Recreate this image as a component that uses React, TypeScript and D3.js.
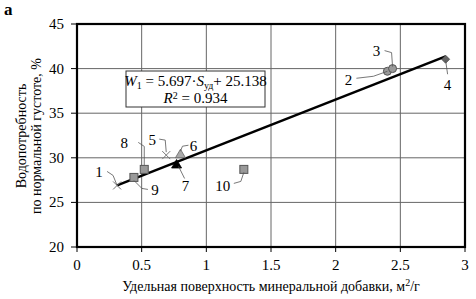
import * as d3 from "d3";

// measured points (specific surface, m2/g ; water demand, %)
const pointIds = ["1", "2", "3", "4", "5", "6", "7", "8", "9", "10"];
const surfaceValues = [0.31, 2.4, 2.44, 2.85, 0.69, 0.8, 0.77, 0.52, 0.44, 1.29];
const waterValues = [26.9, 39.7, 40.0, 41.05, 30.3, 30.4, 29.25, 28.7, 27.8, 28.7];
const markerKinds = ["cross", "circle", "circle", "diamond", "cross", "triangle", "triangleBlack", "square", "square", "square"];

const xTicks = [0, 0.5, 1, 1.5, 2, 2.5, 3];
const yTicks = [20, 25, 30, 35, 40, 45];
const slope = 5.697;
const intercept = 25.138;
const fitRange = [0.31, 2.85];

// label placement, pixels relative to the marker: text pos + leader polyline
const labelLayout: Record<string, { tx: number; ty: number; path: [number, number][] }> = {
  "1": { tx: -18, ty: -13, path: [[0, 0], [-4, -10], [-10, -14]] },
  "2": { tx: -39, ty: 9, path: [[0, 0], [-14, 5], [-31, 7]] },
  "3": { tx: -16, ty: -18, path: [[0, -2], [-1, -16], [-8, -18]] },
  "4": { tx: 2, ty: 26, path: [[0, 1], [2, 15]] },
  "5": { tx: -14, ty: -15, path: [[0, -3], [-1, -15], [-7, -16]] },
  "6": { tx: 13, ty: -8, path: [[0, -3], [2, -8], [8, -9]] },
  "7": { tx: 9, ty: 22, path: [[2, 2], [8, 14]] },
  "8": { tx: -20, ty: -26, path: [[0, -4], [0, -23], [-6, -27]] },
  "9": { tx: 21, ty: 13, path: [[0, 3], [8, 11], [14, 12]] },
  "10": { tx: -21, ty: 17, path: [[0, 3], [-3, 12], [-10, 14]] },
};

const W = 476;
const H = 299;
const m = { left: 77, top: 24, right: 11, bottom: 52 };
const font = "Liberation Serif";

function Marker({ kind, x, y }: { kind: string; x: number; y: number }) {
  if (kind === "cross")
    return (
      <path d={`M${x - 4},${y - 4}L${x + 4},${y + 4}M${x - 4},${y + 4}L${x + 4},${y - 4}`} stroke="#777" strokeWidth={1} />
    );
  if (kind === "circle") return <circle cx={x} cy={y} r={4} fill="#999" stroke="#555" strokeWidth={1} />;
  if (kind === "diamond")
    return <path d={`M${x},${y - 4}L${x + 4},${y}L${x},${y + 4}L${x - 4},${y}Z`} fill="#666" stroke="#444" strokeWidth={0.8} />;
  if (kind === "square") return <rect x={x - 4} y={y - 4} width={8} height={8} fill="#999" stroke="#555" strokeWidth={1} />;
  const fill = kind === "triangleBlack" ? "#000" : "#aaa";
  return <path d={`M${x},${y - 5}L${x + 5},${y + 3.5}L${x - 5},${y + 3.5}Z`} fill={fill} stroke={kind === "triangleBlack" ? "#000" : "#666"} strokeWidth={0.8} />;
}

export default function App() {
  const x = d3.scaleLinear().domain([0, 3]).range([m.left, W - m.right]);
  const y = d3.scaleLinear().domain([20, 45]).range([H - m.bottom, m.top]);
  const line = d3.line<number>().x((s) => x(s)).y((s) => y(slope * s + intercept));

  return (
    <svg width={W} height={H} style={{ position: "absolute", left: 0, top: 0, fontFamily: font }}>
      <rect width={W} height={H} fill="#fff" />
      <text x={4} y={15} fontSize={17} fontWeight="bold">а</text>

      {/* grid */}
      {xTicks.slice(1, -1).map((t) => (
        <line key={"gx" + t} x1={x(t)} x2={x(t)} y1={y(20)} y2={y(45)} stroke="#666" strokeWidth={1} />
      ))}
      {yTicks.slice(1, -1).map((t) => (
        <line key={"gy" + t} x1={x(0)} x2={x(3)} y1={y(t)} y2={y(t)} stroke="#666" strokeWidth={1} />
      ))}

      {/* ticks and labels */}
      {xTicks.map((t) => (
        <g key={"tx" + t}>
          <line x1={x(t)} x2={x(t)} y1={y(20)} y2={y(20) + 5} stroke="#000" strokeWidth={1} />
          <text x={x(t)} y={270} fontSize={15} textAnchor="middle">{t}</text>
        </g>
      ))}
      {yTicks.map((t) => (
        <g key={"ty" + t}>
          <line x1={x(0) - 6} x2={x(0)} y1={y(t)} y2={y(t)} stroke="#000" strokeWidth={1} />
          <text x={64} y={y(t) + 5} fontSize={15} textAnchor="end">{t}</text>
        </g>
      ))}

      {/* frame */}
      <rect x={x(0)} y={y(45)} width={x(3) - x(0)} height={y(20) - y(45)} fill="none" stroke="#000" strokeWidth={2.2} />

      {/* equation box */}
      <rect x={126} y={71} width={139} height={36} fill="#fff" stroke="#333" strokeWidth={1} />
      <text x={195.5} y={86} fontSize={15} textAnchor="middle">
        <tspan fontStyle="italic">W</tspan>
        <tspan fontSize={10} dy={3}>1</tspan>
        <tspan dy={-3}> = 5.697·</tspan>
        <tspan fontStyle="italic">S</tspan>
        <tspan fontSize={10} dy={3}>уд</tspan>
        <tspan dy={-3}>+ 25.138</tspan>
      </text>
      <text x={195.5} y={103} fontSize={15} textAnchor="middle">
        <tspan fontStyle="italic">R</tspan>
        <tspan fontSize={10} dy={-4}>2</tspan>
        <tspan dy={4}> = 0.934</tspan>
      </text>

      {/* trend line */}
      <path d={line(fitRange) ?? ""} stroke="#000" strokeWidth={2.5} fill="none" />

      {/* points with leader labels */}
      {pointIds.map((id, i) => {
        const px = x(surfaceValues[i]);
        const py = y(waterValues[i]);
        const lay = labelLayout[id];
        return (
          <g key={id}>
            <Marker kind={markerKinds[i]} x={px} y={py} />
            <polyline
              points={lay.path.map(([dx, dy]) => `${px + dx},${py + dy}`).join(" ")}
              fill="none"
              stroke="#555"
              strokeWidth={0.8}
            />
            <text x={px + lay.tx} y={py + lay.ty + 5} fontSize={15} textAnchor="middle">{id}</text>
          </g>
        );
      })}

      {/* axis titles */}
      <text x={271} y={291} fontSize={14} textAnchor="middle">
        Удельная поверхность минеральной добавки, м<tspan fontSize={10} dy={-5}>2</tspan>
        <tspan dy={5}>/г</tspan>
      </text>
      <g transform="translate(26,136) rotate(-90)">
        <text x={0} y={0} fontSize={14} textAnchor="middle">Водопотребность</text>
        <text x={0} y={15} fontSize={14} textAnchor="middle">по нормальной густоте, %</text>
      </g>
    </svg>
  );
}
